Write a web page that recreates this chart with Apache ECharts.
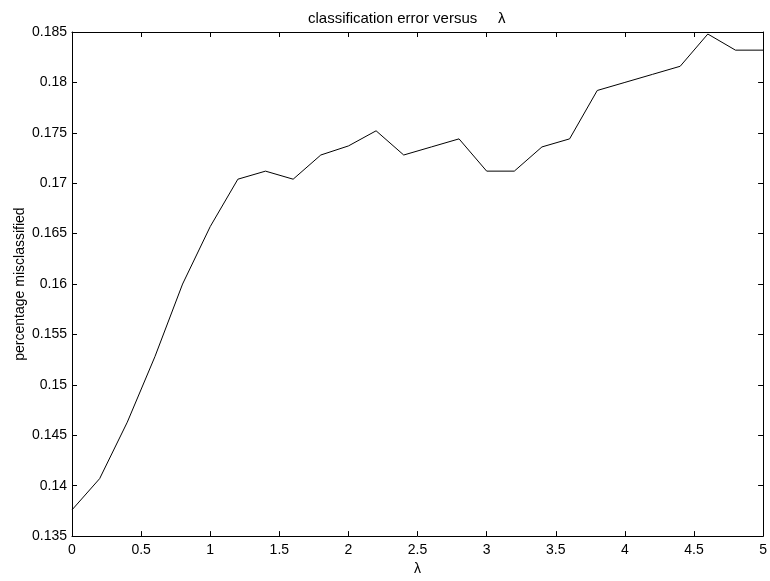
<!DOCTYPE html>
<html>
<head>
<meta charset="utf-8">
<script src="https://cdn.jsdelivr.net/npm/echarts@6/dist/echarts.min.js"></script>
<style>
    html, body { margin: 0; padding: 0; background: #fff; }
    #chart { width: 770px; height: 581px; }
</style>
</head>
<body>
<div id="chart"></div>
<script>
    // lambda values and classification error
    var lambdas = [0, 0.2, 0.4, 0.6, 0.8, 1.0, 1.2, 1.4, 1.6, 1.8, 2.0, 2.2, 2.4, 2.6, 2.8,
                   3.0, 3.2, 3.4, 3.6, 3.8, 4.0, 4.2, 4.4, 4.6, 4.8, 5.0];
    var errors = [0.1376, 0.1407, 0.1463, 0.1528, 0.1600, 0.1657, 0.1704, 0.1712, 0.1704, 0.1728,
                  0.1737, 0.1752, 0.1728, 0.1736, 0.1744, 0.1712, 0.1712, 0.1736, 0.1744, 0.1792,
                  0.1800, 0.1808, 0.1816, 0.1848, 0.1832, 0.1832];
    var xTicks = [0, 0.5, 1, 1.5, 2, 2.5, 3, 3.5, 4, 4.5, 5];
    var yTicks = [0.135, 0.14, 0.145, 0.15, 0.155, 0.16, 0.165, 0.17, 0.175, 0.18, 0.185];

    var font = 'Liberation Sans, Arial, sans-serif';
    var myChart = echarts.init(document.getElementById('chart'));

    var axisBase = {
        axisLine: { show: true, onZero: false, lineStyle: { color: '#000', width: 1 } },
        axisTick: { show: true, inside: true, length: 5, lineStyle: { color: '#000' } },
        splitLine: { show: false }
    };

    var option = {
        animation: false,
        backgroundColor: '#fff',
        title: {
            text: 'classification error versus     λ',
            left: 303,
            top: 6,
            textStyle: { fontFamily: font, fontSize: 15, fontWeight: 'normal', color: '#000' }
        },
        grid: { left: 72, right: 6, top: 32, bottom: 42 },
        xAxis: [
            Object.assign({}, axisBase, {
                type: 'value', min: 0, max: 5, interval: 0.5,
                name: 'λ', nameLocation: 'middle', nameGap: 25,
                nameTextStyle: { fontFamily: font, fontSize: 14, color: '#000' },
                axisLabel: {
                    fontFamily: font, fontSize: 14, color: '#000', margin: 7,
                    formatter: function (v) { return xTicks.indexOf(+v.toFixed(1)) >= 0 ? String(+v.toFixed(1)) : ''; }
                }
            }),
            Object.assign({}, axisBase, {
                type: 'value', min: 0, max: 5, interval: 0.5, position: 'top',
                axisLabel: { show: false }
            })
        ],
        yAxis: [
            Object.assign({}, axisBase, {
                type: 'value', min: 0.135, max: 0.185, interval: 0.005,
                name: 'percentage misclassified', nameLocation: 'middle', nameGap: 45,
                nameMoveOverlap: false,
                nameTextStyle: { fontFamily: font, fontSize: 14, color: '#000' },
                axisLabel: {
                    fontFamily: font, fontSize: 14, color: '#000', margin: 5,
                    formatter: function (v) { return String(+v.toFixed(3)); }
                }
            }),
            Object.assign({}, axisBase, {
                type: 'value', min: 0.135, max: 0.185, interval: 0.005, position: 'right',
                axisLabel: { show: false }
            })
        ],
        series: [{
            type: 'line',
            data: lambdas.map(function (x, i) { return [x, errors[i]]; }),
            showSymbol: false,
            lineStyle: { color: '#000', width: 1 },
            itemStyle: { color: '#000' }
        }]
    };
    option && myChart.setOption(option);
</script>
</body>
</html>
